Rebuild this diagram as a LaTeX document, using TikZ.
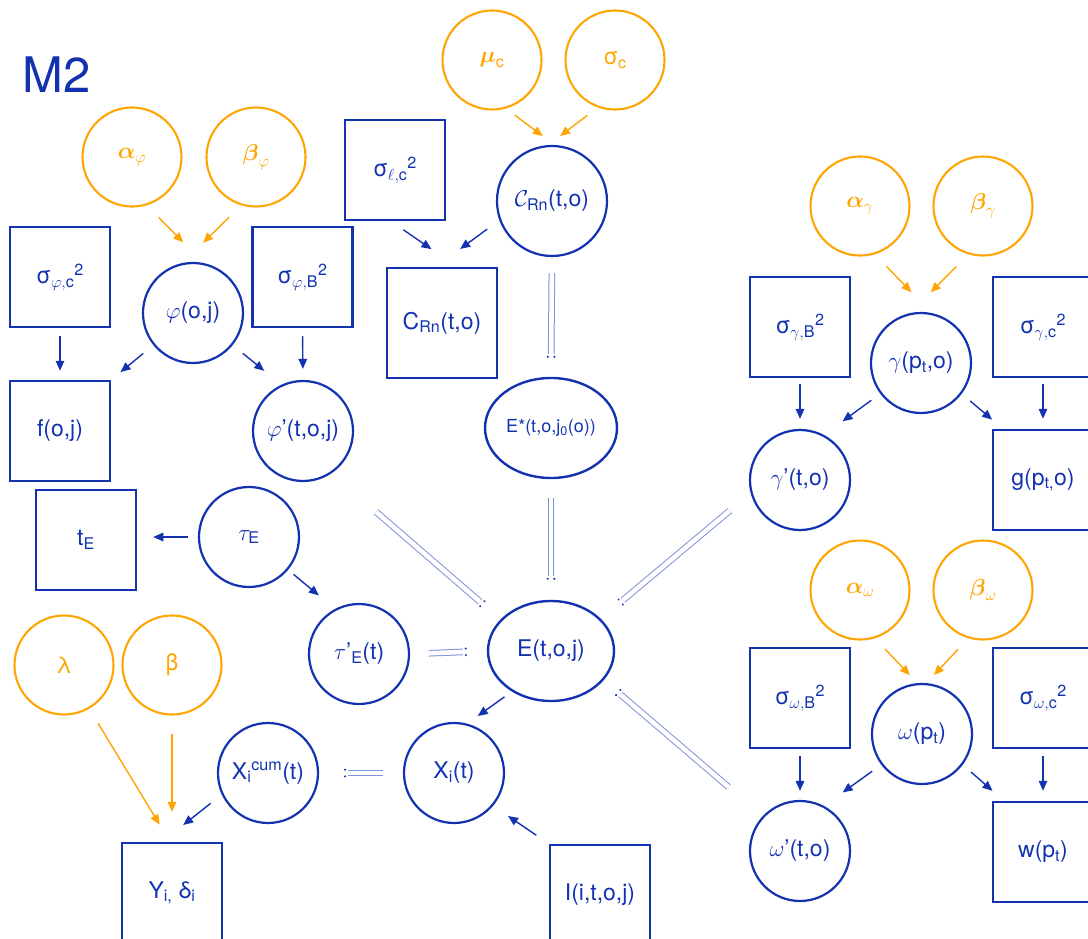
\RequirePackage{fix-cm}
\documentclass[tikz,border=0pt]{standalone}
\usepackage{amsmath}
\usepackage{fontspec}
\setmainfont{TeX Gyre Heros}
\usetikzlibrary{arrows.meta,calc,decorations.markings,shapes.geometric}

\definecolor{inkblue}{HTML}{1232B0}
\definecolor{inkorange}{HTML}{FFA502}
\definecolor{linkblue}{HTML}{7F92DA}

\tikzset{
  base/.style={inner sep=0pt, text=inkblue, font=\fontsize{23}{27}\selectfont},
  var/.style={base, circle, draw=inkblue, line width=2.2pt, minimum size=100pt},
  prior/.style={base, circle, draw=inkorange, text=inkorange, line width=2.1pt, minimum size=99pt},
  obs/.style={base, rectangle, draw=inkblue, line width=2.5pt, minimum size=100pt},
  oval/.style={base, ellipse, draw=inkblue, line width=2.4pt, minimum width=126pt, minimum height=100pt},
  arr/.style={draw=inkblue, line width=1.4pt, -{Triangle[length=10pt,width=8.5pt]}},
  oarr/.style={arr, draw=inkorange},
  link/.style={draw=linkblue, line width=1pt, double=white, double distance=4.6pt,
    postaction={decorate},
    decoration={markings, mark=at position 1 with {
      \fill[inkblue, draw=none] (3pt,3.3pt) circle (1.15pt) (3pt,-3.3pt) circle (1.15pt);}}},
}

% double connector: source, target (dotted end), gap at source, gap at target
\newcommand\linkup[4]{\draw[link] ($(#1)!#3!(#2)$) -- ($(#2)!#4!(#1)$);}

\begin{document}
\begin{tikzpicture}[x=1pt,y=-1pt]
\useasboundingbox (0,0) rectangle (1088,939);
\clip (0,0) rectangle (1088,939);

\node[text=inkblue, font=\fontsize{49}{50}\selectfont] (title) at (57,75) {M2};

% hyperpriors
\node[prior] (aphi) at (132,157) {$\boldsymbol{\alpha}_{\varphi}$};
\node[prior] (bphi) at (256,157) {$\boldsymbol{\beta}_{\varphi}$};
\node[prior] (muc)  at (492,60)  {$\boldsymbol{\mu}_{\text{c}}$};
\node[prior] (sigc) at (615,60)  {σ$_{\text{c}}$};
\node[prior] (agam) at (860,206) {$\boldsymbol{\alpha}_{\gamma}$};
\node[prior] (bgam) at (983,206) {$\boldsymbol{\beta}_{\gamma}$};
\node[prior] (aom)  at (860,590) {$\boldsymbol{\alpha}_{\omega}$};
\node[prior] (bom)  at (983,590) {$\boldsymbol{\beta}_{\omega}$};
\node[prior] (lam)  at (64,665)  {λ};
\node[prior] (bet)  at (172,665) {β};

% latent variables
\node[var] (phi)  at (193,313) {$\varphi$(o,j)};
\node[var] (phid) at (303,431) {$\varphi$’(t,o,j)};
\node[var, minimum size=110pt] (crn) at (552,201) {$\mathcal{C}_{\text{Rn}}$(t,o)};
\node[var] (taue) at (249,537) {$\tau_{\text{E}}$};
\node[var] (taup) at (359,654) {$\tau$’$_{\text{E}}$(t)};
\node[var] (xcum) at (268,773) {X$_{\text{i}}{}^{\text{cum}}$(t)};
\node[var] (xi)   at (454,773) {X$_{\text{i}}$(t)};
\node[var] (gam)  at (921,363) {$\gamma$(p$_{\text{t}}$,o)};
\node[var] (gamp) at (800,480) {$\gamma$’(t,o)};
\node[var] (om)   at (922,734) {$\omega$(p$_{\text{t}}$)};
\node[var] (omp)  at (800,851) {$\omega$’(t,o)};
\node[oval, minimum width=132pt, font=\fontsize{18}{22}\selectfont] (Estar) at (551,428) {E*(t,o,j$_{\text{0}}$(o))};
\node[oval] (E) at (551,651) {E(t,o,j)};

% observed quantities
\node[obs] (sphc) at (60,277)    {σ$_{\varphi,\text{c}}{}^{\text{2}}$};
\node[obs] (sphB) at (302.5,277) {σ$_{\varphi,\text{B}}{}^{\text{2}}$};
\node[obs] (slc)  at (395,170)   {σ$_{\ell,\text{c}}{}^{\text{2}}$};
\node[obs, minimum size=110pt] (cbox) at (442,323) {C$_{\text{Rn}}$(t,o)};
\node[obs] (f)    at (60,431)    {f(o,j)};
\node[obs] (tE)   at (86,540)    {t$_{\text{E}}$};
\node[obs] (Y)    at (172,893)   {Y$_{\text{i,}}$ δ$_{\text{i}}$};
\node[obs] (I)    at (600,895)   {I(i,t,o,j)};
\node[obs] (sgB)  at (800,327)   {σ$_{\gamma,\text{B}}{}^{\text{2}}$};
\node[obs] (sgc)  at (1043,327)  {σ$_{\gamma,\text{c}}{}^{\text{2}}$};
\node[obs] (g)    at (1043,480)  {g(p$_{\text{t,}}$o)};
\node[obs] (soB)  at (800,698)   {σ$_{\omega,\text{B}}{}^{\text{2}}$};
\node[obs] (soc)  at (1043,698)  {σ$_{\omega,\text{c}}{}^{\text{2}}$};
\node[obs] (w)    at (1043,852)  {w(p$_{\text{t}}$)};

% arrows: phi block
\draw[oarr, shorten <=17pt, shorten >=29pt] (aphi.-73) -- (phi.78);
\draw[oarr, shorten <=17pt, shorten >=29pt] (bphi.-107) -- (phi.102);
\draw[arr, shorten <=8pt, shorten >=9pt] (sphc.south) -- (f.north);
\draw[arr, shorten <=13pt, shorten >=12pt] (phi.219) -- (f.north east);
\draw[arr, shorten <=13pt, shorten >=22pt] (phi.-39) -- (phid.115);
\draw[arr, shorten <=8pt, shorten >=11pt] (sphB.south) -- (phid.north);

% arrows: C block
\draw[oarr, shorten <=11pt, shorten >=15pt] (muc.-74) -- (crn.87);
\draw[oarr, shorten <=13pt, shorten >=15pt] (sigc.-110) -- (crn.94);
\draw[arr, shorten <=15pt, shorten >=31pt] ([xshift=-4pt]slc.south) -- ([xshift=15pt]cbox.north);
\draw[arr, shorten <=15pt, shorten >=30pt] (crn.200) -- ([xshift=-6pt]cbox.north);

% arrows: tau, exposure, outcome
\draw[arr, shorten <=10pt, shorten >=16pt] (taue.west) -- (tE.east |- taue.west);
\draw[arr, shorten <=7pt, shorten >=21pt] (taue.-40) -- (taup.118);
\draw[arr, shorten <=9pt, shorten >=13pt] (E.226) -- (xi.75);
\draw[arr, shorten <=15pt, shorten >=18pt] (I.north west) -- (xi.-40);
\draw[arr, shorten <=14pt, shorten >=27pt] (xcum.205) -- ([xshift=-10pt]Y.north);
\draw[oarr, shorten <=17pt, shorten >=20pt] (lam.-60) -- ([xshift=-2pt]Y.north);
\draw[oarr, shorten <=18pt, shorten >=30pt] (bet.south) -- (Y.north);

% arrows: gamma block
\draw[oarr, shorten <=17pt, shorten >=29pt] (agam.-73) -- (gam.78);
\draw[oarr, shorten <=17pt, shorten >=29pt] (bgam.-107) -- (gam.102);
\draw[arr, shorten <=6pt, shorten >=10pt] (sgB.south) -- (gamp.north);
\draw[arr, shorten <=11pt, shorten >=23pt] (gam.217) -- (gamp.62);
\draw[arr, shorten <=11pt, shorten >=14pt] (gam.-37) -- ([xshift=11pt]g.north west);
\draw[arr, shorten <=6pt, shorten >=10pt] (sgc.south) -- (g.north);

% arrows: omega block
\draw[oarr, shorten <=15pt, shorten >=11pt] (aom.-73) -- (om.95);
\draw[oarr, shorten <=15pt, shorten >=11pt] (bom.-107) -- (om.85);
\draw[arr, shorten <=7pt, shorten >=9pt] (soB.south) -- (omp.north);
\draw[arr, shorten <=11pt, shorten >=23pt] (om.217) -- (omp.62);
\draw[arr, shorten <=11pt, shorten >=15pt] (om.-37) -- ([xshift=12pt]w.north west);
\draw[arr, shorten <=7pt, shorten >=10pt] (soc.south) -- (w.north);

% deterministic links
\linkup{crn.south}{Estar.north}{16pt}{23pt}
\linkup{Estar.south}{E.north}{19pt}{24pt}
\linkup{phid.-56}{E.148}{59pt}{27pt}
\linkup{gamp.195}{E.33}{27pt}{29pt}
\linkup{taup.east}{E.west}{19pt}{24pt}
\linkup{omp.137}{E.-29}{45pt}{22pt}
\linkup{xi.west}{xcum.east}{20pt}{29pt}
\end{tikzpicture}
\end{document}
